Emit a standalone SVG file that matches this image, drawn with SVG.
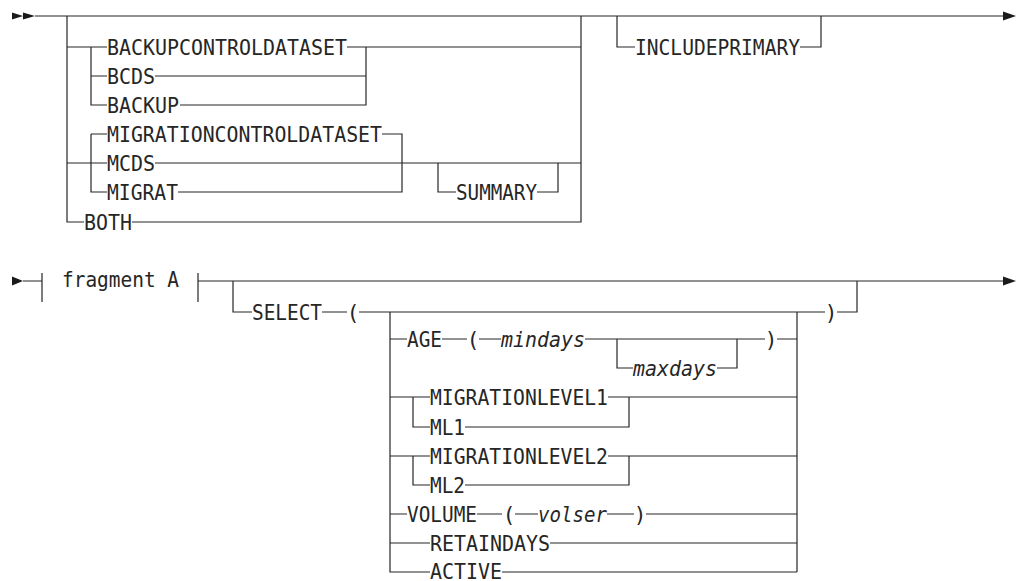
<svg xmlns="http://www.w3.org/2000/svg" width="1022" height="581" viewBox="0 0 1022 581">
<style>
.c{fill:none;stroke:#262626;stroke-width:1.2}
.a{fill:#1a1a1a;stroke:none}
text{font-family:"DejaVu Sans Mono","Liberation Mono",monospace;font-size:21px;fill:#262626}
.i{font-style:italic}
.p{text-anchor:middle}
</style>
<rect width="1022" height="581" fill="#fff"/>
<g id="connectors">
<path class="c" d="M35,16 H1003"/>
<path class="c" d="M67,16 V222 H84 M132,222 H581 V16"/>
<path class="c" d="M67,47 H107 M91,47 V105 H107 M91,76 H107 M347,47 H581 M155,76 H366 M180,105 H366 V47"/>
<path class="c" d="M67,163 H107 M91,134 V192 H107 M91,134 H107 M382,134 H402 V192 H178 M155,163 H581"/>
<path class="c" d="M438,163 V192 H456 M537,192 H558 V163"/>
<path class="c" d="M617,16 V47 H635 M800,47 H821 V16"/>
<path class="a" d="M12,12.5 L23,16 L12,19.5 Z M23,12.5 L35,16 L23,19.5 Z"/>
<path class="a" d="M1003,11.5 L1016,16 L1003,20.5 Z"/>
<path class="a" d="M12,276.5 L23,281 L12,285.5 Z"/>
<path class="c" d="M23,281 H42 M42,273 V302 M198,273 V302 M198,281 H1003"/>
<path class="a" d="M1003,276.5 L1016,281 L1003,285.5 Z"/>
<path class="c" d="M233,281 V312 H252 M322,312 H347 M359,312 H825 M837,312 H857 V281"/>
<path class="c" d="M390,312 V572 H430 M797,312 V572"/>
<path class="c" d="M390,339 H407 M442,339 H467 M479,339 H501 M585,339 H765 M777,339 H797"/>
<path class="c" d="M617,339 V368 H633 M717,368 H737 V339"/>
<path class="c" d="M390,397 H430 M413,397 V427 H430 M608,397 H797 M465,427 H629 V397"/>
<path class="c" d="M390,456 H430 M413,456 V485 H430 M608,456 H797 M465,485 H629 V456"/>
<path class="c" d="M390,514 H407 M477,514 H502 M515,514 H538 M607,514 H634 M646,514 H797"/>
<path class="c" d="M390,543 H430 M550,543 H797 M502,572 H797"/>
</g>
<g id="n-backupcontroldataset"><text x="107" y="54.5" textLength="240" lengthAdjust="spacingAndGlyphs">BACKUPCONTROLDATASET</text></g>
<g id="n-bcds"><text x="107" y="83.5" textLength="48" lengthAdjust="spacingAndGlyphs">BCDS</text></g>
<g id="n-backup"><text x="107" y="112.5" textLength="72" lengthAdjust="spacingAndGlyphs">BACKUP</text></g>
<g id="n-migrationcontroldataset"><text x="107" y="141.5" textLength="275" lengthAdjust="spacingAndGlyphs">MIGRATIONCONTROLDATASET</text></g>
<g id="n-mcds"><text x="107" y="170.5" textLength="48" lengthAdjust="spacingAndGlyphs">MCDS</text></g>
<g id="n-migrat"><text x="107" y="199.5" textLength="71" lengthAdjust="spacingAndGlyphs">MIGRAT</text></g>
<g id="n-both"><text x="84" y="229.5" textLength="48" lengthAdjust="spacingAndGlyphs">BOTH</text></g>
<g id="n-summary"><text x="456" y="199.5" textLength="81" lengthAdjust="spacingAndGlyphs">SUMMARY</text></g>
<g id="n-includeprimary"><text x="635" y="54.5" textLength="165" lengthAdjust="spacingAndGlyphs">INCLUDEPRIMARY</text></g>
<g id="n-fragment"><text x="62" y="287" textLength="117" lengthAdjust="spacingAndGlyphs">fragment A</text></g>
<g id="n-select"><text x="252" y="319.5" textLength="70" lengthAdjust="spacingAndGlyphs">SELECT</text><text class="p" x="353" y="319.5">(</text><text class="p" x="831" y="319.5">)</text></g>
<g id="n-age"><text x="407" y="346.5" textLength="35" lengthAdjust="spacingAndGlyphs">AGE</text><text class="p" x="473" y="346.5">(</text><text class="i" x="501" y="346.5" textLength="84" lengthAdjust="spacingAndGlyphs">mindays</text><text class="p" x="771" y="346.5">)</text></g>
<g id="n-maxdays"><text class="i" x="633" y="375.5" textLength="84" lengthAdjust="spacingAndGlyphs">maxdays</text></g>
<g id="n-ml1long"><text x="430" y="404.5" textLength="178" lengthAdjust="spacingAndGlyphs">MIGRATIONLEVEL1</text></g>
<g id="n-ml1"><text x="430" y="434.5" textLength="35" lengthAdjust="spacingAndGlyphs">ML1</text></g>
<g id="n-ml2long"><text x="430" y="463.5" textLength="178" lengthAdjust="spacingAndGlyphs">MIGRATIONLEVEL2</text></g>
<g id="n-ml2"><text x="430" y="492.5" textLength="35" lengthAdjust="spacingAndGlyphs">ML2</text></g>
<g id="n-volume"><text x="407" y="521.5" textLength="70" lengthAdjust="spacingAndGlyphs">VOLUME</text><text class="p" x="509" y="521.5">(</text><text class="i" x="538" y="521.5" textLength="69" lengthAdjust="spacingAndGlyphs">volser</text><text class="p" x="640" y="521.5">)</text></g>
<g id="n-retaindays"><text x="430" y="550.5" textLength="120" lengthAdjust="spacingAndGlyphs">RETAINDAYS</text></g>
<g id="n-active"><text x="430" y="579" textLength="72" lengthAdjust="spacingAndGlyphs">ACTIVE</text></g>
</svg>
